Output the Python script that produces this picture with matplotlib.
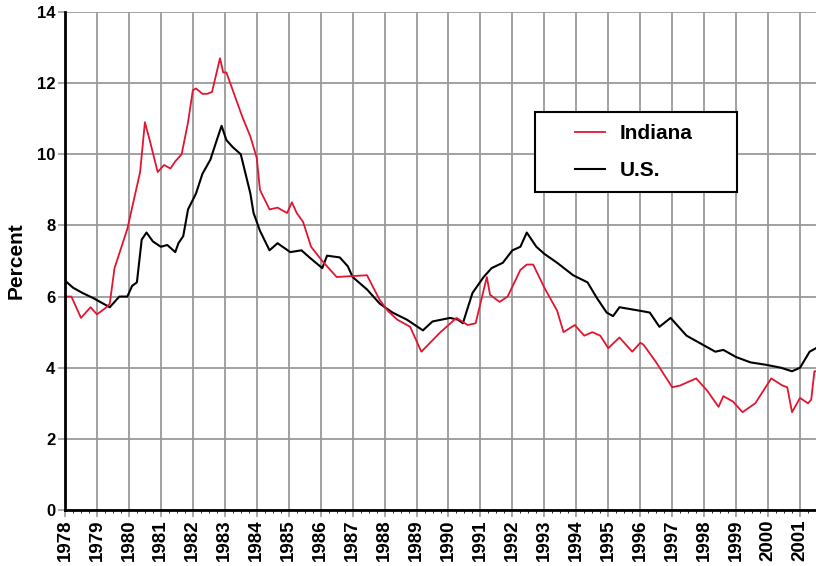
import matplotlib

matplotlib.use('Agg')
import matplotlib.pyplot as plt
from matplotlib.patches import Rectangle
from matplotlib.ticker import MultipleLocator

# Tasso di disoccupazione: Indiana (rosso) e U.S. (nero)
anni_in = [1978.0, 1978.2, 1978.5, 1978.8, 1979.0, 1979.3, 1979.4, 1979.55, 1979.95,
           1980.3, 1980.35, 1980.5, 1980.65, 1980.9, 1981.1, 1981.3, 1981.45, 1981.65,
           1981.85, 1982.0, 1982.1, 1982.3, 1982.45, 1982.6, 1982.85, 1982.95, 1983.05,
           1983.25, 1983.55, 1983.8, 1984.0, 1984.1, 1984.4, 1984.65, 1984.95, 1985.1,
           1985.25, 1985.45, 1985.7, 1986.05, 1986.5, 1987.45, 1987.85, 1988.1, 1988.4,
           1988.8, 1989.15, 1989.75, 1990.25, 1990.6, 1990.85, 1991.2, 1991.3, 1991.6,
           1991.85, 1992.25, 1992.45, 1992.65, 1993.0, 1993.4, 1993.6, 1993.95, 1994.25,
           1994.5, 1994.75, 1995.0, 1995.35, 1995.75, 1996.0, 1996.1, 1996.5, 1997.0,
           1997.25, 1997.75, 1998.1, 1998.45, 1998.6, 1998.9, 1999.2, 1999.6, 2000.1,
           2000.45, 2000.6, 2000.75, 2001.0, 2001.25, 2001.35, 2001.45, 2001.5]
indiana = [6.0, 6.0, 5.4, 5.7, 5.5, 5.7, 5.8, 6.8, 7.9,
           9.3, 9.5, 10.9, 10.4, 9.5, 9.7, 9.6, 9.8, 10.0,
           10.9, 11.8, 11.85, 11.7, 11.7, 11.75, 12.7, 12.3, 12.3,
           11.8, 11.05, 10.5, 9.9, 9.0, 8.45, 8.5, 8.35, 8.65,
           8.35, 8.1, 7.4, 7.0, 6.55, 6.6, 5.9, 5.6, 5.35,
           5.15, 4.45, 5.0, 5.4, 5.2, 5.25, 6.55, 6.05, 5.85,
           6.0, 6.75, 6.9, 6.9, 6.25, 5.6, 5.0, 5.2, 4.9,
           5.0, 4.9, 4.55, 4.85, 4.45, 4.7, 4.65, 4.15, 3.45,
           3.5, 3.7, 3.35, 2.9, 3.2, 3.05, 2.75, 3.0, 3.7,
           3.5, 3.45, 2.75, 3.15, 3.0, 3.1, 3.9, 3.9]

anni_us = [1978.0, 1978.25, 1978.55, 1978.9, 1979.2, 1979.4, 1979.7, 1979.95, 1980.1,
           1980.25, 1980.4, 1980.55, 1980.75, 1981.0, 1981.2, 1981.45, 1981.55, 1981.7,
           1981.85, 1982.1, 1982.3, 1982.55, 1982.75, 1982.9, 1983.05, 1983.25, 1983.5,
           1983.65, 1983.8, 1983.9, 1984.1, 1984.4, 1984.65, 1985.05, 1985.4, 1985.65,
           1986.05, 1986.2, 1986.6, 1986.85, 1987.0, 1987.45, 1987.85, 1988.25, 1988.7,
           1989.2, 1989.5, 1990.05, 1990.3, 1990.45, 1990.75, 1991.1, 1991.35, 1991.7,
           1992.0, 1992.25, 1992.45, 1992.75, 1993.0, 1993.4, 1993.9, 1994.35, 1994.65,
           1994.95, 1995.15, 1995.35, 1996.0, 1996.3, 1996.6, 1996.95, 1997.45, 1997.85,
           1998.35, 1998.6, 1999.0, 1999.45, 1999.95, 2000.4, 2000.75, 2001.0, 2001.3,
           2001.5]
us = [6.45, 6.25, 6.1, 5.95, 5.8, 5.7, 6.0, 6.0, 6.3,
      6.4, 7.6, 7.8, 7.55, 7.4, 7.45, 7.25, 7.5, 7.7,
      8.45, 8.9, 9.45, 9.85, 10.4, 10.8, 10.4, 10.2, 10.0,
      9.45, 8.9, 8.35, 7.85, 7.3, 7.5, 7.25, 7.3, 7.1,
      6.8, 7.15, 7.1, 6.85, 6.55, 6.2, 5.8, 5.55, 5.35,
      5.05, 5.3, 5.4, 5.35, 5.25, 6.1, 6.55, 6.8, 6.95,
      7.3, 7.4, 7.8, 7.4, 7.2, 6.95, 6.6, 6.4, 5.95,
      5.55, 5.45, 5.7, 5.6, 5.55, 5.15, 5.4, 4.9, 4.7,
      4.45, 4.5, 4.3, 4.15, 4.08, 4.0, 3.9, 4.0, 4.45,
      4.55]

anni_tick = list(range(1978, 2002))

plt.rcParams['font.family'] = ['Liberation Sans', 'DejaVu Sans']
plt.rcParams['font.weight'] = 'bold'

fig = plt.figure(figsize=(8.16, 5.66), dpi=100)
ax = fig.add_axes([65 / 816, 1 - 510 / 566, 751 / 816, 498 / 566])

ax.plot(anni_us, us, color='black', linewidth=1.5, label='U.S.')
ax.plot(anni_in, indiana, color='#e3142f', linewidth=1.3, label='Indiana')

ax.set_xlim(1978, 2001.5)
ax.set_ylim(0, 14)
ax.set_xticks(anni_tick)
ax.set_xticklabels([str(a) for a in anni_tick], rotation=90, fontsize=13.5, fontweight='bold')
ax.yaxis.set_major_locator(MultipleLocator(2))
ax.xaxis.set_minor_locator(MultipleLocator(0.25))
for lbl in ax.get_yticklabels():
    lbl.set_fontsize(12)
    lbl.set_fontweight('bold')

ax.grid(True, which='major', color='#9a9a9a', linewidth=1.3)
ax.set_axisbelow(True)
ax.tick_params(axis='both', which='major', length=5, color='#9a9a9a', width=1.2, pad=2)
ax.tick_params(axis='x', which='minor', length=2, color='black')

ax.spines['top'].set_visible(False)
ax.spines['right'].set_visible(False)
ax.spines['left'].set_linewidth(2)
ax.spines['bottom'].set_linewidth(2)

ax.set_ylabel('Percent', fontsize=15, fontweight='bold', labelpad=8)

# Riquadro della legenda
box = Rectangle((470 / 751, 318 / 498), 202 / 751, 80 / 498, transform=ax.transAxes,
                facecolor='white', edgecolor='black', linewidth=1.5, zorder=4)
ax.add_patch(box)

handles, labels = ax.get_legend_handles_labels()
leg = ax.legend(handles[::-1], labels[::-1], loc='center left',
                bbox_to_anchor=(510 / 751, 358 / 498),
                frameon=False, fontsize=15, borderpad=0, borderaxespad=0,
                labelspacing=0.85, handlelength=1.45, handletextpad=0.7)
leg.set_zorder(5)
for t in leg.get_texts():
    t.set_fontweight('bold')

fig.savefig('out.png', dpi=100)
